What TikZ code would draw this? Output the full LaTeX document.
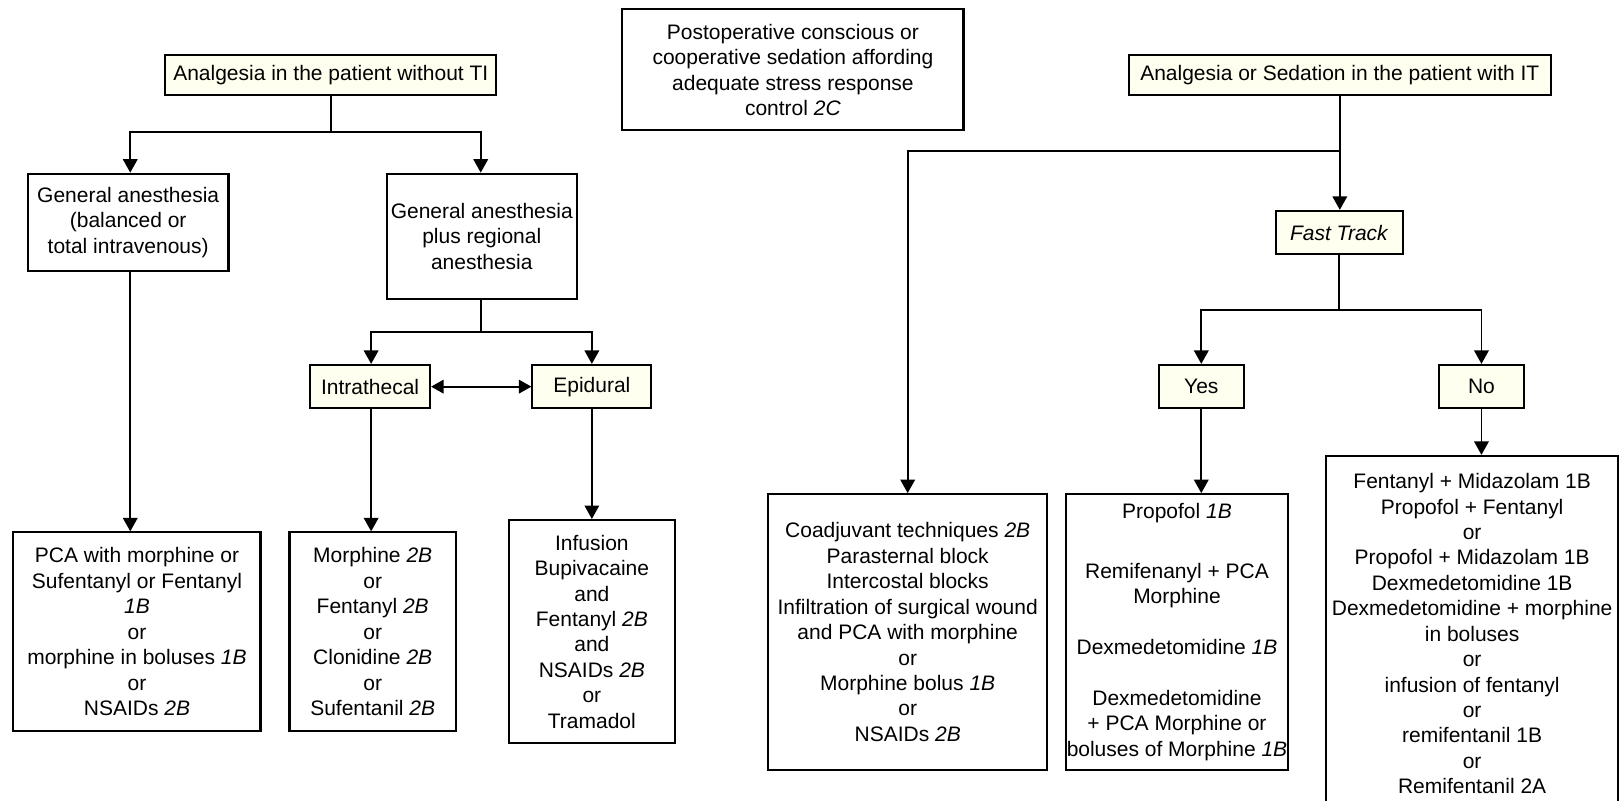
\documentclass[tikz,border=0pt]{standalone}
\usepackage{fontspec}
\setmainfont{Liberation Sans}
\usetikzlibrary{arrows.meta}
\definecolor{cream}{HTML}{FFFFF0}
\begin{document}
\begin{tikzpicture}[x=1pt,y=-1pt,
  box/.style={draw, line width=2pt, inner sep=0pt, align=center, font=\fontsize{20.3}{24.6}\selectfont},
  cbox/.style={box, fill=cream},
  conn/.style={line width=1.8pt},
  arr/.style={conn, -{Triangle[width=14pt,length=13pt]}},
  darr/.style={conn, {Triangle[width=13pt,length=12pt]}-{Triangle[width=13pt,length=12pt]}}
]
\useasboundingbox (0,0) rectangle (1568,774);
\fill[white] (0,0) rectangle (1568,774);

% left tree
\node[cbox, minimum width=320pt, minimum height=39pt] (A) at (320,72.5) {Analgesia in the patient without TI};
\node[box, minimum width=194pt, minimum height=94pt] (GA1) at (124,215) {General anesthesia\\(balanced or\\total intravenous)};
\node[box, minimum width=184pt, minimum height=121pt] (GA2) at (466,228.5) {General anesthesia\\plus regional\\anesthesia};
\node[cbox, minimum width=116pt, minimum height=42pt] (IT) at (358,374) {Intrathecal};
\node[cbox, minimum width=115pt, minimum height=42pt] (EP) at (572.5,374) {Epidural};
\node[box, minimum width=239pt, minimum height=192pt] (PCA) at (132.5,611) {PCA with morphine or\\Sufentanyl or Fentanyl\\\textit{1B}\\or\\morphine in boluses \textit{1B}\\or\\NSAIDs \textit{2B}};
\node[box, minimum width=161pt, minimum height=192pt] (MOR) at (360.5,611) {Morphine \textit{2B}\\or\\Fentanyl \textit{2B}\\or\\Clonidine \textit{2B}\\or\\Sufentanil \textit{2B}};
\node[box, minimum width=161pt, minimum height=216pt] (INF) at (572.5,611) {Infusion\\Bupivacaine\\and\\Fentanyl \textit{2B}\\and\\NSAIDs \textit{2B}\\or\\Tramadol};

% middle
\node[box, minimum width=330pt, minimum height=117pt] (P) at (767,67.5) {Postoperative conscious or\\cooperative sedation affording\\adequate stress response\\control \textit{2C}};

% right tree
\node[cbox, minimum width=408pt, minimum height=39pt] (B) at (1296,72.5) {Analgesia or Sedation in the patient with IT};
\node[cbox, minimum width=123pt, minimum height=42pt] (FT) at (1295.5,225) {\textit{Fast Track}};
\node[cbox, minimum width=82pt, minimum height=42pt] (YES) at (1162,374) {Yes};
\node[cbox, minimum width=82pt, minimum height=42pt] (NO) at (1433,374) {No};
\node[box, minimum width=270pt, minimum height=267pt] (CO) at (878,611.5) {Coadjuvant techniques \textit{2B}\\Parasternal block\\Intercostal blocks\\Infiltration of surgical wound\\and PCA with morphine\\or\\Morphine bolus \textit{1B}\\or\\NSAIDs \textit{2B}};
\node[box, minimum width=215pt, minimum height=267pt] (PR) at (1138.5,611.5) {Propofol \textit{1B}\\[33pt]Remifenanyl + PCA\\Morphine\\[24pt]Dexmedetomidine \textit{1B}\\[25pt]Dexmedetomidine\\+ PCA Morphine or\\boluses of Morphine \textit{1B}};
\node[box, minimum width=282pt, minimum height=344pt] (FE) at (1424,613) {Fentanyl + Midazolam 1B\\Propofol + Fentanyl\\or\\Propofol + Midazolam 1B\\Dexmedetomidine 1B\\Dexmedetomidine + morphine\\in boluses\\or\\infusion of fentanyl\\or\\remifentanil 1B\\or\\Remifentanil 2A};

% connectors left
\draw[conn] (A.south) -- ++(0,35) coordinate (ja);
\draw[arr] (ja) -| ([xshift=2pt]GA1.north);
\draw[arr] (ja) -| ([xshift=-1pt]GA2.north);
\draw[arr] ([xshift=2pt]GA1.south) -- ([xshift=2pt]GA1.south |- PCA.north);
\draw[conn] ([xshift=-1pt]GA2.south) -- ++(0,31) coordinate (jb);
\draw[arr] (jb) -| ([xshift=1pt]IT.north);
\draw[arr] (jb) -| (EP.north);
\draw[darr] (IT.east) -- (EP.west);
\draw[arr] ([xshift=1pt]IT.south) -- ([xshift=1pt]IT.south |- MOR.north);
\draw[arr] (EP.south) -- (INF.north);

% connectors right
\draw[arr] (B.south) -- (B.south |- FT.north);
\path (B.south) -- ++(0,53) coordinate (jc);
\draw[arr] (jc) -| (CO.north);
\draw[conn] (FT.south) -- ++(0,53) coordinate (jd);
\draw[arr] (jd) -| (YES.north);
\draw[arr] (jd) -| (NO.north);
\draw[arr] (YES.south) -- (YES.south |- PR.north);
\draw[arr] (NO.south) -- (NO.south |- FE.north);
\end{tikzpicture}
\end{document}
